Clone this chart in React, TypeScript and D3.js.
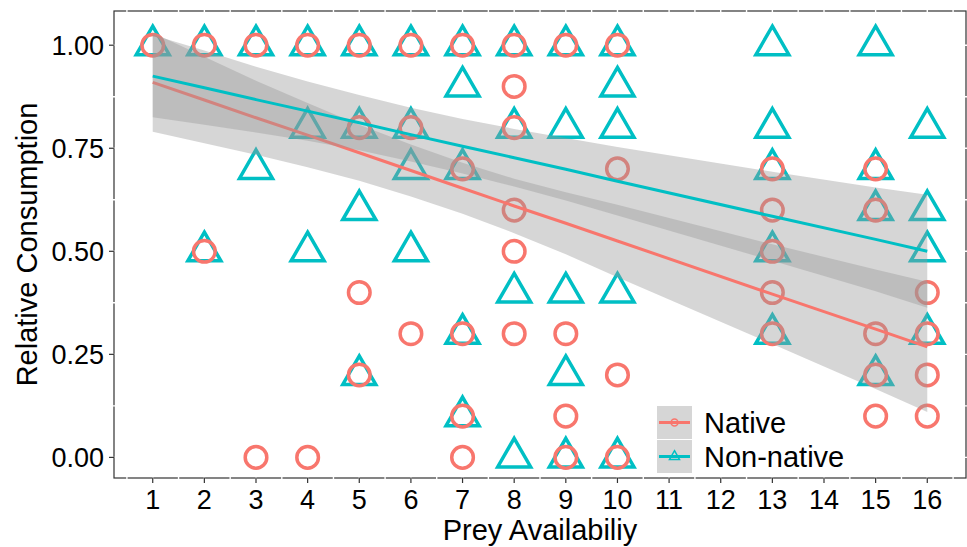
import React from "react";
import * as d3 from "d3";

const nativeX = [1, 2, 2, 3, 3, 4, 4, 5, 5, 5, 5, 6, 6, 6, 7, 7, 7, 7, 7, 8, 8, 8, 8, 8, 8, 9, 9, 9, 9, 10, 10, 10, 10, 13, 13, 13, 13, 13, 15, 15, 15, 15, 15, 16, 16, 16, 16];
const nativeY = [1, 1, 0.5, 1, 0, 1, 0, 1, 0.8, 0.4, 0.2, 1, 0.8, 0.3, 1, 0.7, 0.3, 0.1, 0, 1, 0.9, 0.8, 0.6, 0.5, 0.3, 1, 0.3, 0.1, 0, 1, 0.7, 0.2, 0, 0.7, 0.6, 0.5, 0.4, 0.3, 0.7, 0.6, 0.3, 0.2, 0.1, 0.4, 0.3, 0.2, 0.1];

const nonNativeX = [1, 2, 2, 3, 3, 4, 4, 4, 5, 5, 5, 5, 6, 6, 6, 6, 7, 7, 7, 7, 7, 8, 8, 8, 8, 9, 9, 9, 9, 9, 10, 10, 10, 10, 10, 13, 13, 13, 13, 13, 15, 15, 15, 15, 16, 16, 16, 16];
const nonNativeY = [1, 1, 0.5, 1, 0.7, 1, 0.8, 0.5, 1, 0.8, 0.6, 0.2, 1, 0.8, 0.7, 0.5, 1, 0.9, 0.7, 0.3, 0.1, 1, 0.8, 0.4, 0, 1, 0.8, 0.4, 0.2, 0, 1, 0.9, 0.8, 0.4, 0, 1, 0.8, 0.7, 0.5, 0.3, 1, 0.7, 0.6, 0.2, 0.8, 0.6, 0.5, 0.3];

// fitted trend + confidence band, evaluated at the observed x values
const fitX = [1, 2, 3, 4, 5, 6, 7, 8, 9, 10, 13, 15, 16];
const nativeFit = [0.91, 0.867, 0.824, 0.782, 0.739, 0.696, 0.653, 0.61, 0.568, 0.525, 0.396, 0.311, 0.268];
const nativeLo = [0.79, 0.762, 0.734, 0.704, 0.671, 0.633, 0.591, 0.544, 0.493, 0.437, 0.275, 0.166, 0.11];
const nativeHi = [1.03, 0.972, 0.914, 0.86, 0.807, 0.759, 0.715, 0.676, 0.643, 0.613, 0.517, 0.456, 0.426];
const nonNativeFit = [0.925, 0.897, 0.868, 0.84, 0.812, 0.783, 0.755, 0.727, 0.699, 0.67, 0.585, 0.529, 0.5];
const nonNativeLo = [0.825, 0.807, 0.788, 0.768, 0.745, 0.718, 0.689, 0.657, 0.623, 0.587, 0.477, 0.403, 0.363];
const nonNativeHi = [1.025, 0.987, 0.948, 0.912, 0.879, 0.848, 0.821, 0.797, 0.775, 0.753, 0.693, 0.655, 0.637];

const xTicks = d3.range(1, 17);
const yTicks = [0, 0.25, 0.5, 0.75, 1];
const yLabels = ["0.00", "0.25", "0.50", "0.75", "1.00"];
const groups = ["Native", "Non-native"];
const colors = ["#F8766D", "#00BFC4"];

const panel = { left: 114, right: 966, top: 11, bottom: 478 };
const font = "'Liberation Sans', Arial, sans-serif";

export default function App() {
  const x = d3.scaleLinear().domain([0.25, 16.75]).range([panel.left, panel.right]);
  const y = d3.scaleLinear().domain([-0.05, 1.083]).range([panel.bottom, panel.top]);

  const area = d3.area<number>()
    .x((d, i) => x(fitX[i]));
  const line = d3.line<number>()
    .x((d, i) => x(fitX[i]))
    .y((d) => y(d));

  const band = (lo: number[], hi: number[]) =>
    area.y0((d, i) => y(lo[i])).y1((d, i) => y(hi[i]))(fitX) as string;

  const tri = (cx: number, cy: number, s: number) => {
    const h = s * 0.866;
    return `M${cx},${cy - (2 * h) / 3}L${cx + s / 2},${cy + h / 3}L${cx - s / 2},${cy + h / 3}Z`;
  };

  // white grid over the panel outline (gives the notched frame look)
  const xGrid = d3.range(0.5, 17, 0.5);
  const yGrid = d3.range(-0.125, 1.1, 0.125);

  return (
    <svg width={967} height={547} style={{ position: "absolute", left: 0, top: 0, background: "#fff" }} fontFamily={font}>
      <rect x={panel.left} y={panel.top} width={panel.right - panel.left} height={panel.bottom - panel.top} fill="#fff" stroke="#333" strokeWidth={1.2} />
      <g stroke="#fff" strokeWidth={1.4}>
        {xGrid.map((v) => (
          <line key={"gx" + v} x1={x(v)} x2={x(v)} y1={panel.top - 2} y2={panel.bottom + 2} />
        ))}
        {yGrid.map((v) => (
          <line key={"gy" + v} x1={panel.left - 2} x2={panel.right + 2} y1={y(v)} y2={y(v)} />
        ))}
      </g>

      {/* points */}
      <g fill="none" stroke={colors[1]} strokeWidth={3.5}>
        {nonNativeX.map((v, i) => (
          <path key={"t" + i} d={tri(x(v), y(nonNativeY[i]), 33)} strokeLinejoin="miter" />
        ))}
      </g>
      <g fill="none" stroke={colors[0]} strokeWidth={3.5}>
        {nativeX.map((v, i) => (
          <circle key={"c" + i} cx={x(v)} cy={y(nativeY[i])} r={10.8} />
        ))}
      </g>

      {/* smooths: ribbon then line, per group */}
      <path d={band(nativeLo, nativeHi)} fill="#999" fillOpacity={0.4} />
      <path d={line(nativeFit) as string} fill="none" stroke={colors[0]} strokeWidth={3} />
      <path d={band(nonNativeLo, nonNativeHi)} fill="#999" fillOpacity={0.4} />
      <path d={line(nonNativeFit) as string} fill="none" stroke={colors[1]} strokeWidth={3} />

      {/* axes */}
      <g stroke="#333" strokeWidth={1.2}>
        {xTicks.map((t) => (
          <line key={"xt" + t} x1={x(t)} x2={x(t)} y1={panel.bottom - 0.5} y2={panel.bottom + 5} />
        ))}
        {yTicks.map((t) => (
          <line key={"yt" + t} x1={panel.left - 5} x2={panel.left + 0.5} y1={y(t)} y2={y(t)} />
        ))}
      </g>
      <g fontSize={27} fill="#000" textAnchor="middle">
        {xTicks.map((t) => (
          <text key={"xl" + t} x={x(t)} y={509}>{t}</text>
        ))}
      </g>
      <g fontSize={27} fill="#000" textAnchor="end">
        {yTicks.map((t, i) => (
          <text key={"yl" + t} x={104} y={y(t) + 9.5}>{yLabels[i]}</text>
        ))}
      </g>
      <text x={(panel.left + panel.right) / 2} y={540} fontSize={29} textAnchor="middle">Prey Availabiliy</text>
      <text transform={`translate(37,${(panel.top + panel.bottom) / 2}) rotate(-90)`} fontSize={29} textAnchor="middle">Relative Consumption</text>

      {/* legend */}
      {groups.map((g, i) => {
        const ky = 406 + i * 34;
        const cy = ky + 16.5;
        return (
          <g key={g}>
            <rect x={657} y={ky} width={35} height={33} fill="#d6d6d6" />
            <line x1={659} x2={690} y1={cy} y2={cy} stroke={colors[i]} strokeWidth={3} />
            {i === 0 ? (
              <circle cx={674.5} cy={cy} r={3.5} fill="none" stroke={colors[i]} strokeWidth={1.5} />
            ) : (
              <path d={tri(674.5, cy, 10)} fill="none" stroke={colors[i]} strokeWidth={1.5} />
            )}
            <text x={704} y={cy + 10} fontSize={29} fill="#000">{g}</text>
          </g>
        );
      })}
    </svg>
  );
}
